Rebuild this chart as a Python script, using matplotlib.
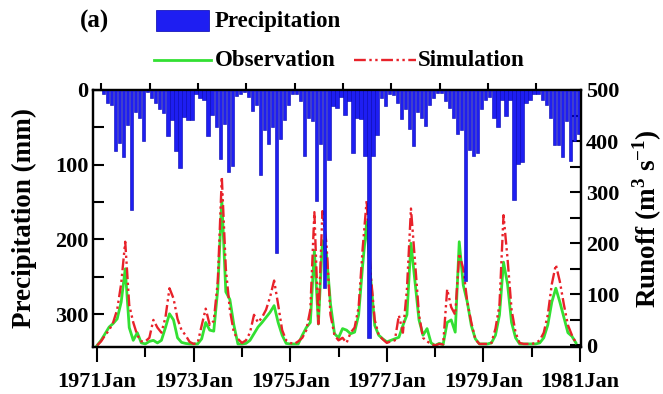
import numpy as np
import matplotlib.pyplot as plt
from matplotlib.lines import Line2D
from matplotlib.patches import Rectangle

plt.rcParams["font.family"] = ["Liberation Serif", "DejaVu Serif"]
plt.rcParams["font.weight"] = "bold"
plt.rcParams["axes.labelweight"] = "bold"
plt.rcParams["mathtext.fontset"] = "custom"
plt.rcParams["mathtext.rm"] = "Liberation Serif:bold"
plt.rcParams["mathtext.bf"] = "Liberation Serif:bold"

# monthly data, 1971 Jan - 1980 Dec (one row per year)
precip = [
    5, 18, 20, 82, 71, 90, 47, 160, 30, 38, 68, 3,
    11, 18, 25, 31, 62, 40, 82, 104, 36, 40, 40, 5,
    11, 13, 61, 33, 50, 92, 45, 110, 102, 8, 5, 3,
    10, 28, 20, 114, 54, 72, 50, 218, 65, 40, 20, 5,
    5, 15, 89, 37, 41, 148, 72, 265, 94, 22, 24, 10,
    33, 15, 85, 37, 39, 88, 332, 88, 60, 11, 22, 5,
    7, 17, 39, 26, 52, 75, 30, 37, 48, 20, 11, 4,
    4, 15, 24, 37, 59, 54, 255, 80, 88, 85, 26, 13,
    10, 37, 50, 13, 35, 13, 147, 99, 97, 17, 13, 5,
    5, 13, 20, 37, 74, 74, 90, 41, 95, 68, 59, 35,
]
observation = [
    0, 10, 23, 36, 43, 52, 85, 150, 35, 10, 25, 5,
    3, 8, 10, 5, 10, 35, 62, 50, 15, 6, 4, 3,
    3, 3, 13, 45, 30, 28, 110, 285, 105, 90, 40, 3,
    3, 4, 10, 23, 36, 45, 55, 65, 78, 45, 20, 4,
    3, 3, 3, 20, 35, 45, 186, 42, 205, 180, 82, 23,
    15, 33, 30, 23, 26, 60, 157, 242, 131, 39, 20, 13,
    7, 10, 13, 16, 39, 60, 200, 125, 50, 20, 33, 5,
    0, 4, 2, 45, 50, 26, 203, 118, 85, 39, 13, 3,
    3, 3, 5, 20, 60, 163, 120, 45, 15, 3, 3, 3,
    3, 3, 5, 15, 40, 85, 112, 85, 55, 25, 18, 5,
]
simulation = [
    0, 8, 20, 30, 45, 70, 121, 203, 79, 45, 20, 8,
    8, 15, 50, 35, 25, 55, 112, 92, 52, 30, 20, 7,
    3, 5, 39, 72, 40, 48, 125, 330, 150, 70, 25, 13,
    5, 10, 25, 60, 45, 55, 70, 95, 127, 80, 30, 10,
    5, 3, 8, 15, 30, 70, 261, 42, 263, 200, 60, 20,
    10, 15, 5, 25, 35, 75, 190, 284, 140, 50, 20, 12,
    5, 8, 10, 59, 25, 110, 268, 165, 60, 15, 8, 3,
    0, 3, 2, 110, 75, 60, 180, 150, 85, 45, 12, 3,
    3, 3, 5, 33, 80, 255, 170, 70, 25, 5, 3, 3,
    3, 5, 10, 25, 60, 120, 158, 125, 80, 40, 20, 5,
]
year_labels = ["1971Jan", "1973Jan", "1975Jan", "1977Jan", "1979Jan", "1981Jan"]

months = np.arange(len(observation))
blue = "#1e1ef2"
green = "#33e033"
red = "#e8222a"
dash = [5, 1.5, 1, 1.5, 1, 1.5]

fig = plt.figure(figsize=(6.63, 3.94), dpi=100)
ax = fig.add_axes([0.1403, 0.1193, 0.736, 0.6523])

# runoff lines (right axis)
ax.plot(months, observation, color=green, lw=2.0)
ax.plot(months, simulation, color=red, lw=1.7, dashes=dash)
ax.set_ylim(-3, 500)
ax.set_xlim(-1, 120.25)

# precipitation bars hanging from the top (left axis)
ax2 = ax.twinx()
ax2.bar(months + 1.6, precip, width=0.82, color=blue, edgecolor="#0000b0", linewidth=0.4)
ax2.set_ylim(344, 0)

ax.yaxis.tick_right()
ax.yaxis.set_label_position("right")
ax2.yaxis.tick_left()
ax2.yaxis.set_label_position("left")

ax.set_yticks(np.arange(0, 501, 100))
ax.set_yticks(np.arange(50, 500, 100), minor=True)
ax2.set_yticks([0, 100, 200, 300])
ax2.set_yticks([50, 150, 250], minor=True)
for a in (ax, ax2):
    a.tick_params(axis="y", which="both", direction="in", length=8, width=1.5, labelsize=16)
    for s in a.spines.values():
        s.set_linewidth(1.6)

ax.set_xticks(np.arange(0, 121, 24))
ax.set_xticklabels(year_labels)
ax.set_xticks(np.arange(12, 120, 24), minor=True)
ax.tick_params(axis="x", which="major", direction="out", length=11, width=1.5, pad=7, labelsize=16)
ax.tick_params(axis="x", which="minor", direction="out", length=7, width=1.5)

top = ax.secondary_xaxis("top")
top.set_xticks(np.arange(0, 120, 12) + 1.1)
top.set_xticklabels([])
top.tick_params(direction="out", length=5, width=1.5)

ax2.set_ylabel("Precipitation (mm)", fontsize=19.5, labelpad=13)
ax.set_ylabel(r"Runoff (m$^{\mathbf{3}}$ s$^{\mathbf{-1}}$)", fontsize=19.5, labelpad=8)

# legend drawn in figure pixels
W, H = 663.0, 394.0
fig.text(80 / W, 1 - 21 / H, "(a)", fontsize=18, va="center")
fig.patches.append(Rectangle((156 / W, 1 - 31 / H), 53 / W, 21 / H, transform=fig.transFigure,
                             facecolor=blue, edgecolor="#0000b0", lw=0.5))
fig.text(215 / W, 1 - 21 / H, "Precipitation", fontsize=16.5, va="center")
fig.lines.append(Line2D([154 / W, 211 / W], [1 - 60 / H] * 2, transform=fig.transFigure,
                        color=green, lw=2.0))
fig.text(215 / W, 1 - 60 / H, "Observation", fontsize=16.5, va="center")
fig.lines.append(Line2D([354 / W, 416 / W], [1 - 60 / H] * 2, transform=fig.transFigure,
                        color=red, lw=1.7, dashes=dash))
fig.text(418 / W, 1 - 60 / H, "Simulation", fontsize=16.5, va="center")

fig.savefig("out.png", dpi=100)
